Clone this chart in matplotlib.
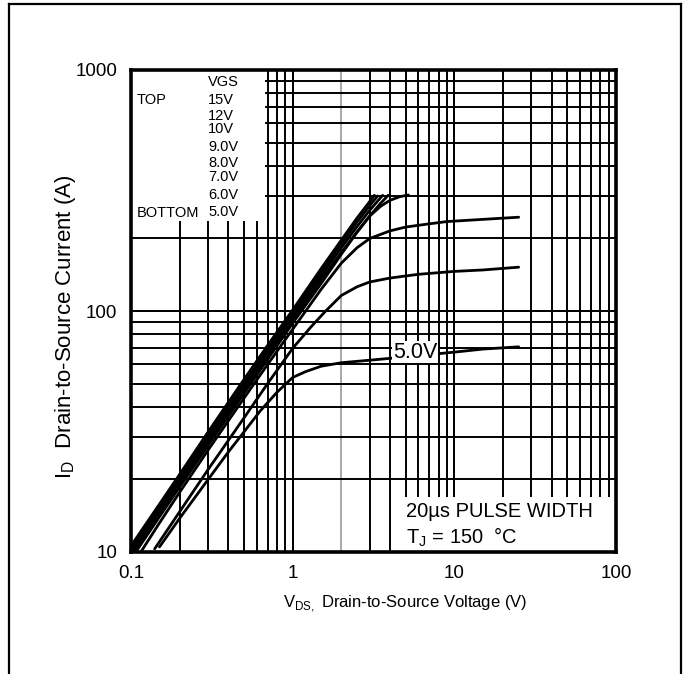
import matplotlib
matplotlib.use("Agg")
import matplotlib.pyplot as plt
from matplotlib.lines import Line2D
from matplotlib.patches import Rectangle

# Output characteristics, I_D vs V_DS for several gate voltages (Tj = 150 C)
vds_15v = [0.1, 0.15, 0.2, 0.3, 0.5, 0.7, 1.0, 1.5, 2.0, 2.5, 3.0, 3.2]
id_15v = [10.6, 15.8, 21.0, 31.5, 52.0, 72.0, 101, 150, 197, 243, 285, 302]

vds_12v = [0.1, 0.15, 0.2, 0.3, 0.5, 0.7, 1.0, 1.5, 2.0, 2.5, 3.0, 3.35]
id_12v = [10.3, 15.3, 20.3, 30.5, 50.0, 69.5, 98, 145, 190, 234, 274, 300]

vds_10v = [0.1, 0.15, 0.2, 0.3, 0.5, 0.7, 1.0, 1.5, 2.0, 2.5, 3.0, 3.6]
id_10v = [10.0, 14.8, 19.7, 29.5, 48.5, 67.0, 95, 140, 183, 224, 262, 302]

vds_9v = [0.103, 0.15, 0.2, 0.3, 0.5, 0.7, 1.0, 1.5, 2.0, 2.5, 3.0, 3.5, 3.9]
id_9v = [10.0, 14.4, 19.1, 28.5, 47.0, 65.0, 92, 135, 175, 213, 248, 280, 302]

vds_8v = [0.107, 0.15, 0.2, 0.3, 0.5, 0.7, 1.0, 1.5, 2.0, 2.5, 3.0, 3.5, 4.0, 4.6, 5.2]
id_8v = [10.0, 14.0, 18.6, 27.7, 45.5, 63.0, 89, 130, 172, 212, 248, 272, 288, 298, 303]

vds_7v = [0.115, 0.15, 0.2, 0.3, 0.5, 0.7, 1.0, 1.5, 2.0, 2.5, 3.0, 4.0, 5.0, 7.0, 9.0, 15.0, 25.0]
id_7v = [10.0, 13.2, 17.7, 26.5, 43.5, 60.0, 84, 123, 158, 183, 200, 215, 223, 230, 235, 240, 245]

vds_6v = [0.14, 0.2, 0.3, 0.5, 0.7, 1.0, 1.3, 1.6, 2.0, 2.5, 3.0, 4.0, 6.0, 10.0, 15.0, 25.0]
id_6v = [10.3, 14.7, 22.0, 36.0, 50.0, 70.0, 86, 100, 116, 126, 132, 137, 142, 146, 148, 152]

vds_5v = [0.15, 0.2, 0.3, 0.4, 0.5, 0.63, 0.8, 1.0, 1.2, 1.5, 2.0, 3.0, 5.0, 10.0, 15.0, 25.0]
id_5v = [10.5, 13.8, 20.0, 26.0, 31.5, 38.5, 46.0, 53.0, 56.0, 59.0, 61.0, 62.5, 64.5, 67.5, 69.5, 71.0]

curves = [
    (vds_15v, id_15v), (vds_12v, id_12v), (vds_10v, id_10v), (vds_9v, id_9v),
    (vds_8v, id_8v), (vds_7v, id_7v), (vds_6v, id_6v), (vds_5v, id_5v),
]

legend_values = ["15V", "12V", "10V", "9.0V", "8.0V", "7.0V", "6.0V", "5.0V"]
x_tick_values = [0.1, 1, 10, 100]
x_tick_labels = ["0.1", "1", "10", "100"]
y_tick_values = [10, 100, 1000]
y_tick_labels = ["10", "100", "1000"]

plt.rcParams["font.family"] = ["Liberation Sans", "DejaVu Sans"]

fig = plt.figure(figsize=(6.83, 6.74), dpi=100)
ax = fig.add_axes([131 / 683, 1 - 552 / 674, 485 / 683, 482 / 674])
ax.set_xscale("log")
ax.set_yscale("log")
ax.set_xlim(0.1, 100)
ax.set_ylim(10, 1000)

# log grid: 1..9 per decade, the 2 V line drawn in grey
for dec in (0.1, 1, 10):
    for m in range(1, 11):
        v = dec * m
        if v <= 0.1 or v >= 100:
            continue
        col = "#a8a8a8" if abs(v - 2) < 1e-9 else "black"
        ax.axvline(v, color=col, lw=1.4, zorder=1)
for dec in (10, 100):
    for m in range(1, 11):
        v = dec * m
        if v <= 10 or v >= 1000:
            continue
        ax.axhline(v, color="black", lw=1.4, zorder=1)

# white panels behind the legend and the test-condition note
ax.add_patch(Rectangle((0, 0.687), 0.276, 0.313, transform=ax.transAxes,
                       facecolor="white", edgecolor="none", zorder=2))
ax.add_patch(Rectangle((0.544, 0), 0.456, 0.114, transform=ax.transAxes,
                       facecolor="white", edgecolor="none", zorder=2))

for vx, iy in curves:
    ax.plot(vx, iy, color="black", lw=2.0, solid_capstyle="round",
            solid_joinstyle="round", zorder=3)

ax.text(5.7, 67.5, "5.0V", fontsize=15.5, ha="center", va="center", zorder=4,
        bbox=dict(facecolor="white", edgecolor="none", pad=0.5))

# legend block
leg_fs = 10.5
ax.text(0.159, 0.975, "VGS", transform=ax.transAxes, fontsize=leg_fs,
        va="center", ha="left", zorder=4)
ax.text(0.012, 0.938, "TOP", transform=ax.transAxes, fontsize=leg_fs,
        va="center", ha="left", zorder=4)
ax.text(0.012, 0.704, "BOTTOM", transform=ax.transAxes, fontsize=leg_fs,
        va="center", ha="left", zorder=4)
leg_rows = [100, 116, 129, 147, 163, 177, 195, 212]
for lbl, py in zip(legend_values, leg_rows):
    ax.text(0.159, (552 - py) / 482, lbl, transform=ax.transAxes,
            fontsize=leg_fs, va="center", ha="left", zorder=4)

ax.text(0.567, 0.083, "20µs PULSE WIDTH", transform=ax.transAxes,
        fontsize=14.5, va="center", ha="left", zorder=4)
ax.text(0.567, 0.031, "T$_\\mathregular{J}$ = 150  °C", transform=ax.transAxes,
        fontsize=14.5, va="center", ha="left", zorder=4)

ax.set_xticks(x_tick_values)
ax.set_xticklabels(x_tick_labels)
ax.set_yticks(y_tick_values)
ax.set_yticklabels(y_tick_labels)
ax.minorticks_off()
ax.tick_params(length=0, labelsize=13.5)
ax.tick_params(axis="x", pad=9)
ax.tick_params(axis="y", pad=10)

for sp in ax.spines.values():
    sp.set_linewidth(2.6)
    sp.set_zorder(5)

ax.set_xlabel("V$_\\mathregular{DS,}$ Drain-to-Source Voltage (V)", fontsize=12)
ax.xaxis.set_label_coords((405 - 131) / 485, (552 - 604) / 482)
ax.xaxis.label.set_va("center")
ax.set_ylabel("I$_\\mathregular{D}$  Drain-to-Source Current (A)", fontsize=16)
ax.yaxis.set_label_coords((66 - 131) / 485, (552 - 327) / 482)
ax.yaxis.label.set_va("center")

# page frame around the chart
frame = dict(color="black", lw=1.6, transform=fig.transFigure)
fig.add_artist(Line2D([9 / 683, 9 / 683], [0, 1 - 4 / 674], **frame))
fig.add_artist(Line2D([681 / 683, 681 / 683], [0, 1 - 4 / 674], **frame))
fig.add_artist(Line2D([9 / 683, 681 / 683], [1 - 4 / 674, 1 - 4 / 674], **frame))

fig.savefig("out.png", dpi=100, facecolor="white")
